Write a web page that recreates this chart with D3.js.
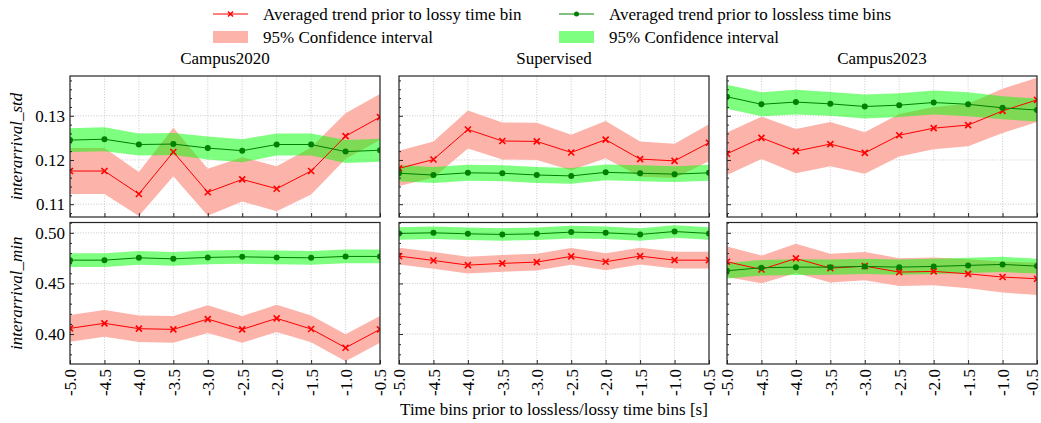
<!DOCTYPE html>
<html lang="en">
<head>
    <meta charset="UTF-8">
    <title>interarrival trends</title>
    <script src="https://d3js.org/d3.v7.min.js"></script>
</head>
<style>
    html,body {
        margin: 0;
        padding: 0;
        background: #fff;
    }
    svg text {
        font-family: "Liberation Serif", "DejaVu Serif", serif;
    }
</style>
<body>
    <div id="svg"></div>
</body>
<script>
    // x positions (time bins, s)
    const xs = [-5.0, -4.5, -4.0, -3.5, -3.0, -2.5, -2.0, -1.5, -1.0, -0.5];
    const xTickLabels = ['-5.0', '-4.5', '-4.0', '-3.5', '-3.0', '-2.5', '-2.0', '-1.5', '-1.0', '-0.5'];
    const datasets = ['Campus2020', 'Supervised', 'Campus2023'];
    const metrics = ['interarrival_std', 'interarrival_min'];

    const stdTicks = [0.11, 0.12, 0.13];
    const minTicks = [0.40, 0.45, 0.50];

    // interarrival_std, lossy (red) and lossless (green), mean and 95% CI half width
    const c2020StdLossy = [0.1175, 0.1175, 0.1123, 0.1218, 0.1127, 0.1156, 0.1135, 0.1175, 0.1254, 0.1297];
    const c2020StdLossyCi = [0.0052, 0.0052, 0.0050, 0.0055, 0.0053, 0.0050, 0.0051, 0.0053, 0.0052, 0.0052];
    const c2020StdLossless = [0.1245, 0.1247, 0.1235, 0.1236, 0.1227, 0.1221, 0.1235, 0.1235, 0.1219, 0.1222];
    const c2020StdLosslessCi = [0.0027, 0.0027, 0.0025, 0.0025, 0.0026, 0.0026, 0.0025, 0.0025, 0.0026, 0.0026];

    const supStdLossy = [0.1181, 0.1201, 0.1269, 0.1243, 0.1242, 0.1217, 0.1246, 0.1202, 0.1198, 0.1239];
    const supStdLossyCi = [0.0040, 0.0041, 0.0043, 0.0042, 0.0042, 0.0040, 0.0042, 0.0040, 0.0039, 0.0042];
    const supStdLossless = [0.1170, 0.1166, 0.1171, 0.1170, 0.1166, 0.1164, 0.1172, 0.1170, 0.1168, 0.1171];
    const supStdLosslessCi = [0.0018, 0.0018, 0.0018, 0.0018, 0.0018, 0.0018, 0.0018, 0.0018, 0.0018, 0.0018];

    const c2023StdLossy = [0.1214, 0.1250, 0.1220, 0.1236, 0.1216, 0.1256, 0.1272, 0.1279, 0.1311, 0.1336];
    const c2023StdLossyCi = [0.0048, 0.0048, 0.0050, 0.0050, 0.0047, 0.0048, 0.0048, 0.0048, 0.0050, 0.0050];
    const c2023StdLossless = [0.1343, 0.1326, 0.1331, 0.1327, 0.1321, 0.1324, 0.1330, 0.1326, 0.1318, 0.1313];
    const c2023StdLosslessCi = [0.0027, 0.0027, 0.0028, 0.0027, 0.0027, 0.0027, 0.0027, 0.0027, 0.0026, 0.0026];

    // interarrival_min
    const c2020MinLossy = [0.4056, 0.4106, 0.4053, 0.4046, 0.4148, 0.4046, 0.4155, 0.4050, 0.3865, 0.4046];
    const c2020MinLossyCi = [0.0132, 0.0132, 0.0131, 0.0132, 0.0137, 0.0132, 0.0135, 0.0132, 0.0133, 0.0132];
    const c2020MinLossless = [0.4730, 0.4730, 0.4753, 0.4743, 0.4757, 0.4763, 0.4757, 0.4753, 0.4767, 0.4767];
    const c2020MinLosslessCi = [0.0068, 0.0068, 0.0068, 0.0068, 0.0068, 0.0068, 0.0068, 0.0068, 0.0068, 0.0068];

    const supMinLossy = [0.4770, 0.4727, 0.4681, 0.4698, 0.4711, 0.4767, 0.4714, 0.4770, 0.4730, 0.4730];
    const supMinLossyCi = [0.0083, 0.0083, 0.0083, 0.0083, 0.0083, 0.0083, 0.0083, 0.0083, 0.0083, 0.0083];
    const supMinLossless = [0.4994, 0.5000, 0.4990, 0.4984, 0.4990, 0.5007, 0.5000, 0.4984, 0.5013, 0.4994];
    const supMinLosslessCi = [0.0062, 0.0062, 0.0062, 0.0062, 0.0062, 0.0062, 0.0062, 0.0062, 0.0062, 0.0062];

    const c2023MinLossy = [0.4714, 0.4638, 0.4747, 0.4651, 0.4671, 0.4612, 0.4619, 0.4595, 0.4563, 0.4546];
    const c2023MinLossyCi = [0.0150, 0.0137, 0.0145, 0.0142, 0.0140, 0.0138, 0.0138, 0.0143, 0.0153, 0.0160];
    const c2023MinLossless = [0.4625, 0.4655, 0.4661, 0.4661, 0.4668, 0.4661, 0.4668, 0.4678, 0.4688, 0.4671];
    const c2023MinLosslessCi = [0.0077, 0.0077, 0.0077, 0.0076, 0.0076, 0.0076, 0.0075, 0.0075, 0.0075, 0.0074];

    const panels = [
        [[c2020StdLossy, c2020StdLossyCi, c2020StdLossless, c2020StdLosslessCi],
         [supStdLossy, supStdLossyCi, supStdLossless, supStdLosslessCi],
         [c2023StdLossy, c2023StdLossyCi, c2023StdLossless, c2023StdLosslessCi]],
        [[c2020MinLossy, c2020MinLossyCi, c2020MinLossless, c2020MinLosslessCi],
         [supMinLossy, supMinLossyCi, supMinLossless, supMinLosslessCi],
         [c2023MinLossy, c2023MinLossyCi, c2023MinLossless, c2023MinLosslessCi]]
    ];

    const width = 1041;
    const height = 423;
    const fontSize = 17;

    // panel geometry
    const colLeft = [70, 399, 727];
    const panelW = 310;
    const rowTop = [76, 222.5];
    const rowBottom = [217, 364];

    const redLine = '#ff0000';
    const redBand = 'rgb(252,179,170)';
    const greenLine = '#008000';
    const greenBand = 'rgba(0,255,0,0.5)';
    const frameColor = '#262626';

    const svg = d3.select('#svg').append('svg')
        .attr('width', width)
        .attr('height', height);

    const yDomains = [[0.1071, 0.139], [0.3704, 0.5102]];
    const yMajor = [stdTicks, minTicks];
    const yMinor = [d3.range(0.108, 0.1385, 0.002), d3.range(0.38, 0.515, 0.01)];

    const x = d3.scaleLinear().domain([-5, -0.5]);

    panels.forEach((row, r) => {
        const y = d3.scaleLinear().domain(yDomains[r]).range([rowBottom[r], rowTop[r]]);
        row.forEach((p, c) => {
            const [lossy, lossyCi, lossless, losslessCi] = p;
            x.range([colLeft[c], colLeft[c] + panelW]);
            const g = svg.append('g');
            const clipId = 'clip' + r + c;
            svg.append('clipPath').attr('id', clipId).append('rect')
                .attr('x', colLeft[c]).attr('y', rowTop[r])
                .attr('width', panelW).attr('height', rowBottom[r] - rowTop[r]);

            // grid
            g.append('g').selectAll('line').data(xs).enter().append('line')
                .attr('x1', d => x(d)).attr('x2', d => x(d))
                .attr('y1', rowTop[r]).attr('y2', rowBottom[r])
                .attr('stroke', '#bdbdbd').attr('stroke-width', 0.8).attr('stroke-dasharray', '1,1.6');
            g.append('g').selectAll('line').data(yMajor[r]).enter().append('line')
                .attr('x1', colLeft[c]).attr('x2', colLeft[c] + panelW)
                .attr('y1', d => y(d)).attr('y2', d => y(d))
                .attr('stroke', '#bdbdbd').attr('stroke-width', 0.8).attr('stroke-dasharray', '1,1.6');

            const plot = g.append('g').attr('clip-path', `url(#${clipId})`);
            const area = (m, ci) => d3.area()
                .x((d, i) => x(xs[i]))
                .y0((d, i) => y(m[i] - ci[i]))
                .y1((d, i) => y(m[i] + ci[i]))(m);
            const line = d3.line().x((d, i) => x(xs[i])).y(d => y(d));

            plot.append('path').attr('d', area(lossy, lossyCi)).attr('fill', redBand);
            plot.append('path').attr('d', area(lossless, losslessCi)).attr('fill', greenBand);

            plot.append('path').attr('d', line(lossy))
                .attr('fill', 'none').attr('stroke', redLine).attr('stroke-width', 1);
            const s = 3;
            plot.append('g').selectAll('path').data(lossy).enter().append('path')
                .attr('d', (d, i) => {
                    const cx = x(xs[i]), cy = y(d);
                    return `M${cx - s},${cy - s}L${cx + s},${cy + s}M${cx - s},${cy + s}L${cx + s},${cy - s}`;
                })
                .attr('stroke', redLine).attr('stroke-width', 1.6);

            plot.append('path').attr('d', line(lossless))
                .attr('fill', 'none').attr('stroke', greenLine).attr('stroke-width', 1);
            plot.append('g').selectAll('circle').data(lossless).enter().append('circle')
                .attr('cx', (d, i) => x(xs[i])).attr('cy', d => y(d))
                .attr('r', 3).attr('fill', greenLine);

            // axes with inward ticks
            const yAxis = d3.axisLeft(y).tickValues(yMajor[r]).tickSize(-4).tickPadding(5)
                .tickFormat(c === 0 ? d3.format('.2f') : '');
            const ya = g.append('g').attr('transform', `translate(${colLeft[c]},0)`).call(yAxis);
            const yMinorAxis = d3.axisLeft(y).tickValues(yMinor[r].filter(v => !yMajor[r].some(m => Math.abs(m - v) < 1e-6)))
                .tickSize(-2).tickFormat('');
            const ym = g.append('g').attr('transform', `translate(${colLeft[c]},0)`).call(yMinorAxis);

            const xAxis = d3.axisBottom(x).tickValues(xs).tickSize(-4)
                .tickFormat((d, i) => r === 1 ? xTickLabels[i] : '');
            const xa = g.append('g').attr('transform', `translate(0,${rowBottom[r]})`).call(xAxis);
            xa.selectAll('text')
                .attr('transform', 'rotate(-90)')
                .attr('x', -5).attr('y', 0)
                // the last label sits on the page edge, nudge it in a little
                .attr('dy', (d, i) => (c === 2 && i === xs.length - 1) ? '0.02em' : '0.35em')
                .attr('text-anchor', 'end');

            [ya, ym, xa].forEach(a => {
                a.select('.domain').remove();
                a.selectAll('line').attr('stroke', frameColor).attr('stroke-width', 1);
                a.selectAll('text').attr('font-size', fontSize).attr('fill', '#000')
                    .attr('font-family', '"Liberation Serif", serif');
            });

            g.append('rect')
                .attr('x', colLeft[c]).attr('y', rowTop[r])
                .attr('width', panelW).attr('height', rowBottom[r] - rowTop[r])
                .attr('fill', 'none').attr('stroke', frameColor).attr('stroke-width', 1.2);

            if (r === 0) {
                svg.append('text')
                    .attr('x', colLeft[c] + panelW / 2).attr('y', 64)
                    .attr('text-anchor', 'middle').attr('font-size', fontSize)
                    .text(datasets[c]);
            }
            if (c === 0) {
                svg.append('text')
                    .attr('transform', `translate(22,${(rowTop[r] + rowBottom[r]) / 2}) rotate(-90)`)
                    .attr('text-anchor', 'middle').attr('font-size', fontSize)
                    .attr('font-style', 'italic')
                    .text(metrics[r]);
            }
        });
    });

    // x axis title
    svg.append('text')
        .attr('x', colLeft[1] + panelW / 2).attr('y', 415)
        .attr('text-anchor', 'middle').attr('font-size', fontSize)
        .text('Time bins prior to lossless/lossy time bins [s]');

    // legend
    const legend = svg.append('g');
    const legendCols = [
        {x0: 213, line: redLine, band: redBand, marker: 'x', label: 'Averaged trend prior to lossy time bin'},
        {x0: 559, line: greenLine, band: greenBand, marker: 'o', label: 'Averaged trend prior to lossless time bins'}
    ];
    legendCols.forEach(lc => {
        legend.append('line')
            .attr('x1', lc.x0).attr('x2', lc.x0 + 35).attr('y1', 14).attr('y2', 14)
            .attr('stroke', lc.line).attr('stroke-width', 1);
        const mx = lc.x0 + 17.5;
        if (lc.marker === 'x') {
            legend.append('path')
                .attr('d', `M${mx - 2.5},11.5L${mx + 2.5},16.5M${mx - 2.5},16.5L${mx + 2.5},11.5`)
                .attr('stroke', lc.line).attr('stroke-width', 1.5);
        } else {
            legend.append('circle').attr('cx', mx).attr('cy', 14).attr('r', 2.5).attr('fill', lc.line);
        }
        legend.append('text').attr('x', lc.x0 + 50).attr('y', 20)
            .attr('font-size', fontSize).text(lc.label);
        legend.append('rect')
            .attr('x', lc.x0).attr('y', 31).attr('width', 35).attr('height', 12)
            .attr('fill', lc.band);
        legend.append('text').attr('x', lc.x0 + 50).attr('y', 43)
            .attr('font-size', fontSize).text('95% Confidence interval');
    });
</script>
</html>
